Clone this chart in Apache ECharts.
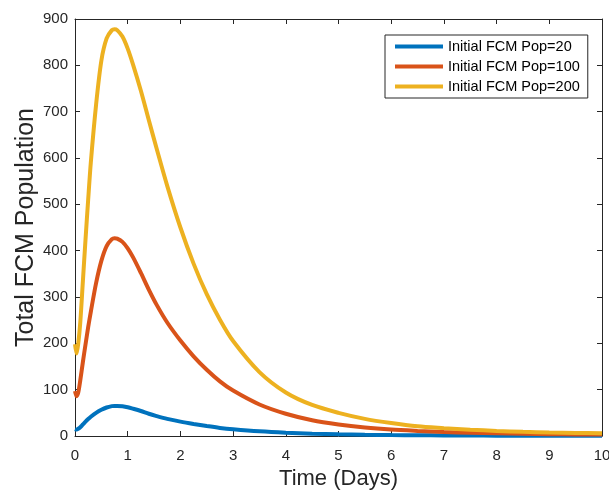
<!DOCTYPE html>
<html>
<head>
<meta charset="utf-8">
<script src="https://cdn.jsdelivr.net/npm/echarts@6/dist/echarts.min.js"></script>
<style>
  html, body { margin: 0; padding: 0; background: #fff; }
  #chart { width: 609px; height: 491px; }
</style>
</head>
<body>
<div id="chart"></div>
<script>
// time in days
const days = [0, 0.03, 0.06, 0.1, 0.15, 0.2, 0.25, 0.3, 0.4, 0.5, 0.6, 0.7, 0.75, 0.8, 0.9, 1.0,
  1.1, 1.25, 1.4, 1.55, 1.75, 2.0, 2.25, 2.5, 2.75, 3.0, 3.5, 4.0, 4.5, 5.0, 5.5, 6, 6.5, 7,
  7.5, 8, 8.5, 9, 9.5, 10];

const pop20 = [15, 14, 15.5, 19, 25, 31, 36.5, 41.5, 50, 56.5, 61.5, 64.5, 65, 65, 64, 62,
  59, 54, 48, 43, 37, 31, 26, 21.5, 17.5, 14.5, 10, 7, 5, 3.7, 2.8, 2.1, 1.6, 1.2,
  1, 0.8, 0.6, 0.5, 0.4, 0.4];

const pop100 = [97, 86, 93, 120, 160, 198, 235, 268, 330, 378, 410, 425, 427, 426, 419, 405,
  386, 352, 316, 283, 245, 206, 172, 143, 118, 98, 68, 48, 34, 25, 18.5, 14, 11, 8.5,
  7, 5.8, 4.8, 4, 3.5, 3];

const pop200 = [198, 178, 198, 245, 335, 425, 510, 590, 715, 810, 858, 876, 878, 876, 862, 836,
  802, 745, 682, 620, 540, 450, 372, 306, 251, 205, 138, 94, 67, 50, 37, 28, 21, 17,
  13.5, 11, 9, 7.5, 6.5, 6];

const seriesNames = ['Initial FCM Pop=20', 'Initial FCM Pop=100', 'Initial FCM Pop=200'];
const seriesColors = ['#0072BD', '#D95319', '#EDB120'];

const axisColor = '#262626';
const font = 'Arial, "Liberation Sans", Helvetica, sans-serif';

function pairs(ys) {
  return days.map((d, i) => [d, ys[i]]);
}

function boxAxis(extra) {
  return Object.assign({
    type: 'value',
    axisLine: {show: true, onZero: false, lineStyle: {color: axisColor, width: 1}},
    axisTick: {show: true, inside: true, length: 5, lineStyle: {color: axisColor}},
    splitLine: {show: false},
    axisLabel: {show: false}
  }, extra);
}

const chart = echarts.init(document.getElementById('chart'));

const option = {
  backgroundColor: '#fff',
  animation: false,
  textStyle: {fontFamily: font},
  grid: {left: 75, top: 19, right: 7, bottom: 55, outerBoundsMode: 'none'},
  legend: {
    orient: 'vertical',
    left: 385,
    top: 35,
    data: seriesNames,
    icon: 'rect',
    itemWidth: 48,
    itemHeight: 4,
    itemGap: 5,
    padding: [4, 8, 4, 10],
    borderColor: axisColor,
    borderWidth: 1,
    backgroundColor: '#fff',
    textStyle: {fontSize: 14.5, color: '#000', fontFamily: font}
  },
  xAxis: [
    boxAxis({
      position: 'bottom',
      min: 0, max: 10, interval: 1,
      name: 'Time (Days)',
      nameLocation: 'middle',
      nameGap: 32,
      nameMoveOverlap: false,
      nameTextStyle: {fontSize: 22, color: axisColor, fontFamily: font},
      axisLabel: {show: true, fontSize: 15, color: axisColor, margin: 12, fontFamily: font}
    }),
    boxAxis({position: 'top', min: 0, max: 10, interval: 1})
  ],
  yAxis: [
    boxAxis({
      position: 'left',
      min: 0, max: 900, interval: 100,
      name: 'Total FCM Population',
      nameLocation: 'middle',
      nameGap: 36,
      nameMoveOverlap: false,
      nameTextStyle: {fontSize: 25, color: axisColor, fontFamily: font},
      axisLabel: {show: true, fontSize: 15, color: axisColor, margin: 7, fontFamily: font}
    }),
    boxAxis({position: 'right', min: 0, max: 900, interval: 100})
  ],
  series: [pop20, pop100, pop200].map((ys, i) => ({
    name: seriesNames[i],
    type: 'line',
    data: pairs(ys),
    xAxisIndex: 0,
    yAxisIndex: 0,
    showSymbol: false,
    smooth: 0.3,
    color: seriesColors[i],
    lineStyle: {width: 4, color: seriesColors[i]}
  }))
};

chart.setOption(option);
</script>
</body>
</html>
